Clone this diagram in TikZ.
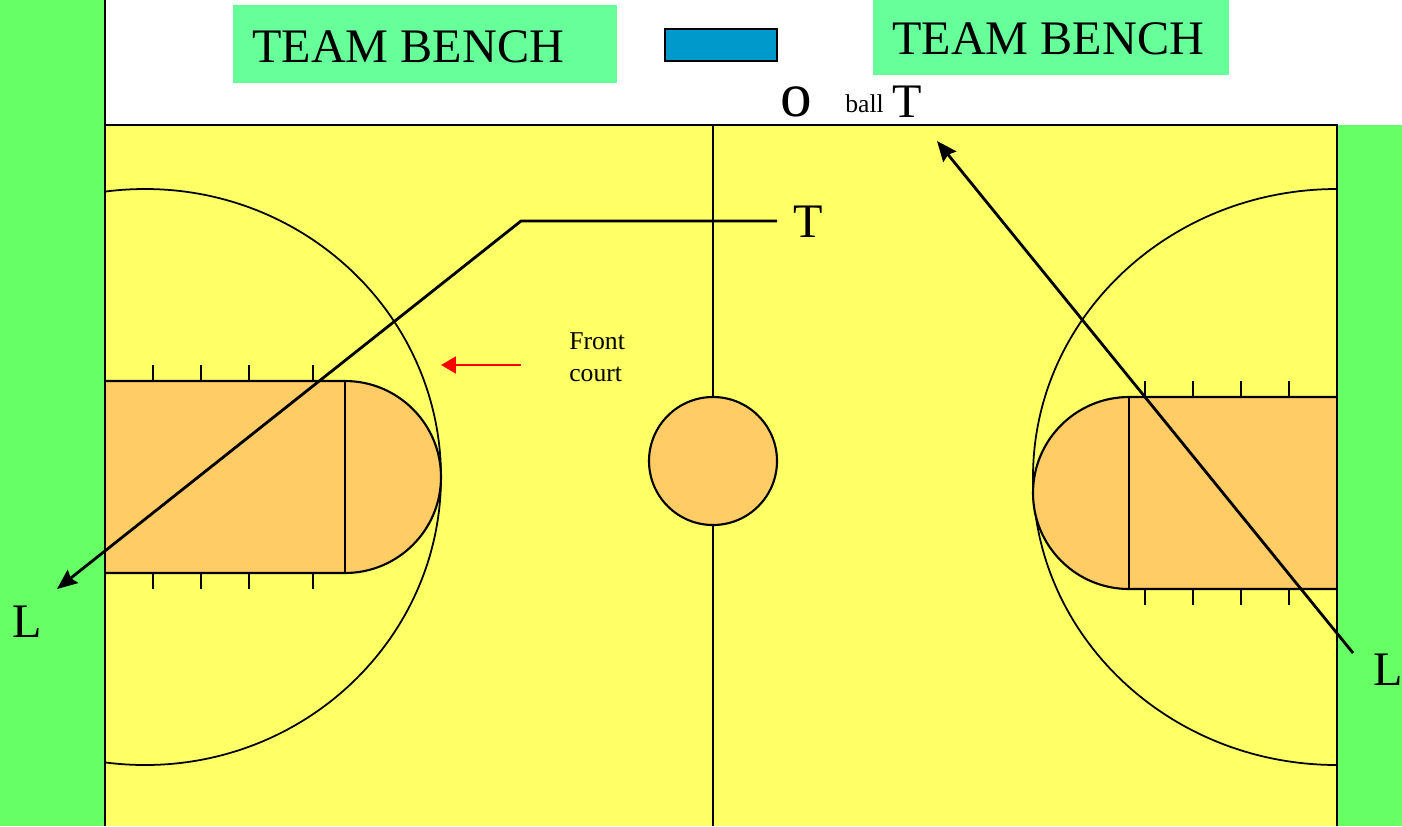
\documentclass[tikz,border=0pt]{standalone}
\usepackage{fontspec}
\setmainfont{Liberation Serif}
\usetikzlibrary{arrows.meta}
\definecolor{courtyellow}{HTML}{FFFF66}
\definecolor{sidegreen}{HTML}{66FF66}
\definecolor{keyorange}{HTML}{FFCC66}
\definecolor{benchgreen}{HTML}{66FF99}
\definecolor{tableblue}{HTML}{0099CC}
\tikzset{
  courtline/.style={draw=black, line width=1.2pt},
  thinline/.style={draw=black, line width=1pt},
  runline/.style={draw=black, line width=1.6pt, -{Stealth[length=11.5pt,width=9.5pt,inset=1.5pt]}},
  bigtext/.style={anchor=base west, inner sep=0pt, font=\fontsize{27.4}{32}\selectfont},
  smalltext/.style={anchor=base west, inner sep=0pt, font=\fontsize{14.6}{17}\selectfont},
}

\begin{document}
\begin{tikzpicture}[x=0.02cm, y=-0.02cm]
  \useasboundingbox (0,0) rectangle (1402,826);
  % side strips and floor
  \fill[sidegreen] (0,0) rectangle (105,826);
  \fill[sidegreen] (1337,125) rectangle (1402,826);
  \fill[courtyellow] (105,125) rectangle (1337,826);
  % big arcs
  \begin{scope}
    \clip (105,125) rectangle (1337,826);
    \draw[thinline] (145,477) ellipse [x radius=296, y radius=288];
  \end{scope}
  \draw[thinline] (1337,189) arc [start angle=-90, end angle=-270, x radius=304, y radius=288];
  % left key
  \filldraw[fill=keyorange, courtline] (105,381) -- (345,381) arc [start angle=-90, end angle=90, radius=96] -- (105,573);
  \draw[courtline] (345,381) -- (345,573);
  % right key
  \filldraw[fill=keyorange, courtline] (1337,397) -- (1129,397) arc [start angle=-90, end angle=-270, radius=96] -- (1337,589);
  \draw[courtline] (1129,397) -- (1129,589);
  % ticks
  \foreach \x in {153,201,249,313} {
    \draw[thinline] (\x,365) -- (\x,381);
    \draw[thinline] (\x,573) -- (\x,589);
  }
  \foreach \x in {1145,1193,1241,1289} {
    \draw[thinline] (\x,381) -- (\x,397);
    \draw[thinline] (\x,589) -- (\x,605);
  }
  % court outline and centre
  \draw[courtline] (105,0) -- (105,826);
  \draw[courtline] (105,125) -- (1337,125) -- (1337,826);
  \draw[courtline] (713,125) -- (713,826);
  \filldraw[fill=keyorange, courtline] (713,461) circle [radius=64];
  % bench and table
  \fill[benchgreen] (233,5) rectangle (617,83);
  \fill[benchgreen] (873,0) rectangle (1229,75);
  \filldraw[fill=tableblue, courtline] (665,29) rectangle (777,61);
  \node[bigtext] (benchleft) at (252,62) {TEAM BENCH};
  \node[bigtext] (benchright) at (892,54) {TEAM BENCH};
  % officials
  \node[anchor=base west, inner sep=0pt, font=\fontsize{36}{40}\selectfont] (ballo) at (780,116) {o};
  \node[smalltext] (balltext) at (845,112) {ball};
  \node[bigtext] (ballt) at (892,117) {T};
  \node[bigtext] (trailt) at (793,237) {T};
  \node[bigtext] (leadl) at (12,637) {L};
  \node[bigtext] (leadr) at (1373,685) {L};
  \node[smalltext] (front) at (569,349) {Front};
  \node[smalltext] (court) at (569,381) {court};
  % movement
  \coordinate (trailstart) at (777,221);
  \coordinate (trailbend) at (521,221);
  \coordinate (trailend) at (57,589);
  \coordinate (leadstart) at (1353,653);
  \coordinate (leadend) at (937,141);
  \coordinate (frontstart) at (521,365);
  \coordinate (frontend) at (441,365);
  \draw[runline] (trailstart) -- (trailbend) -- (trailend);
  \draw[runline] (leadstart) -- (leadend);
  \draw[draw=red, line width=1.6pt, -{Triangle[length=8.5pt,width=9.5pt]}] (frontstart) -- (frontend);
\end{tikzpicture}
\end{document}
